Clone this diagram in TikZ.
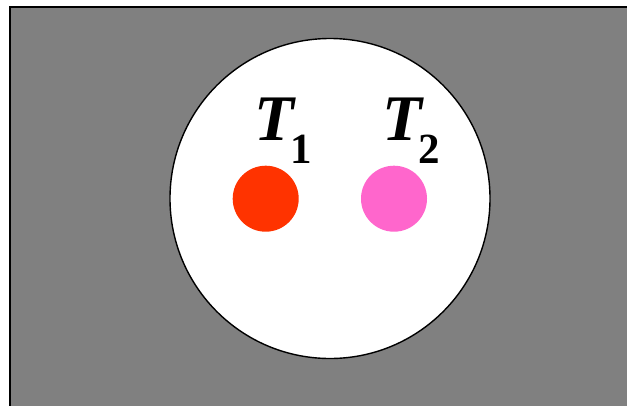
\documentclass[tikz,border=0pt]{standalone}
\usepackage{fontspec}
\setmainfont{Liberation Serif}
\definecolor{bggray}{HTML}{808080}
\definecolor{dotred}{HTML}{FF3300}
\definecolor{dotpink}{HTML}{FF66CC}
\newcommand{\tlabel}[1]{{\fontsize{65}{65}\selectfont\bfseries\itshape T}\kern-3pt\raisebox{-23pt}{\fontsize{43}{43}\selectfont\bfseries #1}}
\begin{document}
\begin{tikzpicture}[x=1pt,y=-1pt,
  dot/.style={circle,inner sep=0pt,minimum size=66pt},
  lbl/.style={inner sep=0pt,anchor=base west}]
\useasboundingbox (0,0) rectangle (627,405);
\clip (0,0) rectangle (627,405);
\filldraw[fill=bggray,draw=black,line width=2pt] (10,7) rectangle (700,500);
\node[circle,fill=white,draw=black,line width=1.4pt,minimum size=320pt,inner sep=0pt] (big) at (330,198.5) {};
\node[dot,fill=dotred] (d1) at (265.7,198.7) {};
\node[dot,fill=dotpink] (d2) at (394,198.7) {};
\node[lbl] (t1) at (254,140.7) {\tlabel{1}};
\node[lbl] (t2) at (382,140.7) {\tlabel{2}};
\end{tikzpicture}
\end{document}
